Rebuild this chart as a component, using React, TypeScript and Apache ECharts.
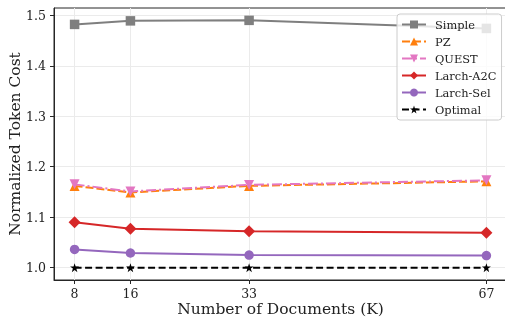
import React, { useEffect, useRef } from "react";
import * as echarts from "echarts";

const docs = [8, 16, 33, 67];
const xTicks = [8, 16, 33, 67];
const yTicks = [1.0, 1.1, 1.2, 1.3, 1.4, 1.5];
const simple = [1.482, 1.489, 1.490, 1.474];
const pz = [1.162, 1.149, 1.162, 1.171];
const quest = [1.165, 1.151, 1.164, 1.173];
const larchA2C = [1.090, 1.077, 1.072, 1.069];
const larchSel = [1.036, 1.029, 1.025, 1.024];
const optimal = [1.0, 1.0, 1.0, 1.0];

const STAR =
  "path://M50,0 L61.8,35.4 L100,35.4 L69.1,57.3 L80.9,95.1 L50,72.4 L19.1,95.1 L30.9,57.3 L0,35.4 L38.2,35.4 Z";

const FONT = "'DejaVu Serif', serif";

export default function App() {
  const ref = useRef<HTMLDivElement>(null);
  useEffect(() => {
    const chart = echarts.init(ref.current!, null, { renderer: "svg" });
    const mk = (
      name: string,
      vals: number[],
      color: string,
      symbol: string,
      size: number,
      type: any,
      z: number
    ) => ({
      name,
      type: "line",
      data: docs.map((d, i) => [d, vals[i]]),
      symbol,
      symbolSize: size,
      showAllSymbol: true,
      z,
      lineStyle: { color, width: 2, type },
      itemStyle: { color, borderWidth: 0 },
      emphasis: { disabled: true },
    });
    chart.setOption({
      animation: false,
      textStyle: { fontFamily: FONT },
      grid: {
        left: 54,
        top: 8,
        bottom: 40,
        right: -2,
        outerBoundsMode: "none",
        containLabel: false,
        show: true,
        borderColor: "#262626",
        borderWidth: 1,
        backgroundColor: "transparent",
      },
      xAxis: {
        type: "value",
        min: 5.05,
        max: 69.95,
        name: "Number of Documents (K)",
        nameLocation: "middle",
        nameGap: 21,
        nameMoveOverlap: false,
        nameTextStyle: { fontFamily: FONT, fontSize: 15.5, color: "#222" },
        axisLine: { show: true, lineStyle: { color: "#262626", width: 1 } },
        axisTick: {
          show: true,
          customValues: xTicks,
          length: 4,
          lineStyle: { color: "#262626" },
        },
        axisLabel: {
          customValues: xTicks,
          fontFamily: FONT,
          fontSize: 12.5,
          color: "#222",
          margin: 7,
        },
        splitLine: { show: true, lineStyle: { color: "#ebebeb", width: 1 } },
      },
      yAxis: {
        type: "value",
        min: 0.9755,
        max: 1.5145,
        name: "Normalized Token Cost",
        nameLocation: "middle",
        nameGap: 31,
        nameMoveOverlap: false,
        nameTextStyle: { fontFamily: FONT, fontSize: 15.5, color: "#222" },
        axisLine: { show: true, lineStyle: { color: "#262626", width: 1 } },
        axisTick: {
          show: true,
          customValues: yTicks,
          length: 4,
          lineStyle: { color: "#262626" },
        },
        axisLabel: {
          customValues: yTicks,
          formatter: (v: number) => v.toFixed(1),
          fontFamily: FONT,
          fontSize: 12.5,
          color: "#222",
          margin: 8,
        },
        splitLine: { show: true, lineStyle: { color: "#ebebeb", width: 1 } },
      },
      legend: {
        orient: "vertical",
        left: 397,
        top: 14,
        padding: [5, 5, 5, 4],
        itemWidth: 24,
        itemHeight: 10,
        itemGap: 6,
        backgroundColor: "rgba(255,255,255,0.8)",
        borderColor: "#cccccc",
        borderWidth: 1,
        borderRadius: 3,
        textStyle: {
          fontFamily: FONT,
          fontSize: 11.4,
          lineHeight: 10,
          height: 10,
          color: "#222",
          padding: [0, 0, 0, 4],
        },
        data: ["Simple", "PZ", "QUEST", "Larch-A2C", "Larch-Sel", "Optimal"],
      },
      series: [
        mk("Simple", simple, "#7f7f7f", "rect", 9.5, "solid", 2),
        mk("PZ", pz, "#ff7f0e", "triangle", 10, [8, 3], 3),
        mk("QUEST", quest, "#e377c2", "path://M0,0 L100,0 L50,90 Z", 10, [10, 3, 2, 3], 4),
        mk("Larch-A2C", larchA2C, "#d62728", "diamond", 12, "solid", 5),
        mk("Larch-Sel", larchSel, "#9467bd", "circle", 9.5, "solid", 6),
        mk("Optimal", optimal, "#000000", STAR, 9, [7, 3.5], 7),
      ],
    });
    return () => chart.dispose();
  }, []);
  return (
    <div
      ref={ref}
      style={{ position: "fixed", left: 0, top: 0, width: 505, height: 320 }}
    />
  );
}
